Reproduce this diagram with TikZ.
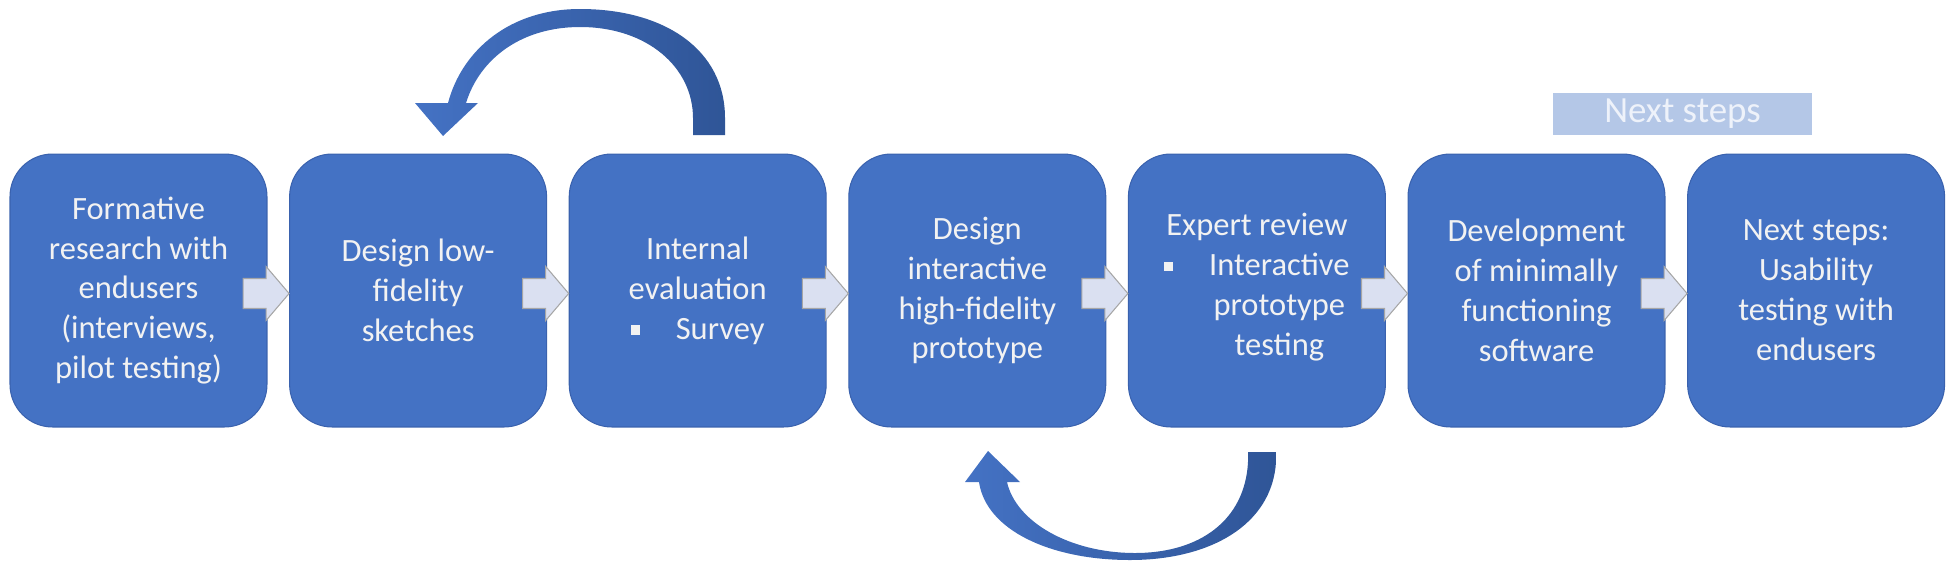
\documentclass[tikz,border=0pt]{standalone}
\usepackage{fontspec}
\setmainfont{Carlito}
\usetikzlibrary{positioning}

\definecolor{boxblue}{HTML}{4472C4}
\definecolor{boxline}{HTML}{3A62AE}
\definecolor{chevfill}{HTML}{DAE0F1}
\definecolor{chevline}{HTML}{A6A6A6}
\definecolor{loopdark}{HTML}{2F5597}
\definecolor{bannerblue}{HTML}{B4C7E7}
\definecolor{textwhite}{HTML}{F2F2F2}
\definecolor{bannertext}{HTML}{EEF2FA}

\newcommand{\sqbullet}{\rule[0.14em]{0.28em}{0.28em}}

\begin{document}
\begin{tikzpicture}[x=0.02cm, y=-0.02cm,
    stepbox/.style={rectangle,rounded corners=0.85cm,draw=boxline,line width=0.6pt,fill=boxblue,
      minimum width=5.14cm,minimum height=5.46cm,inner sep=0pt,align=center,text=textwhite,
      font=\fontsize{18.5}{22.7}\selectfont},
    chevron/.style={fill=chevfill,draw=chevline,line width=0.6pt},
    feedback/.style={left color=boxblue,right color=loopdark},
    banner/.style={rectangle,fill=bannerblue,minimum width=5.18cm,minimum height=0.84cm,
      inner sep=0pt,text=bannertext,font=\fontsize{21}{25}\selectfont}
    ]

    \useasboundingbox (0,0) rectangle (1950,572);

    % process steps:
    \node (b1) at (138.5,290.5) [stepbox] {Formative\\research with\\endusers\\(interviews,\\pilot testing)};
    \node (b2) [stepbox,right=0.432cm of b1] {Design low-\\fidelity\\sketches};
    \node (b3) [stepbox,right=0.432cm of b2] {Internal\\evaluation\\\sqbullet\hspace{1.1em}Survey};
    \node (b4) [stepbox,right=0.432cm of b3] {Design\\interactive\\high-fidelity\\prototype};
    \node (b5) [stepbox,right=0.432cm of b4] {Expert review\\\sqbullet\hspace{1.1em}\begin{tabular}[t]{@{}c@{}}Interactive\\prototype\\testing\end{tabular}};
    \node (b6) [stepbox,right=0.432cm of b5] {Development\\of minimally\\functioning\\software};
    \node (b7) [stepbox,right=0.432cm of b6] {Next steps:\\Usability\\testing with\\endusers};

    % label over the last steps:
    \node (next) at (1682.5,114) [banner] {Next steps};

    % block arrows between steps:
    \foreach \b in {2,...,7}
    \draw [chevron] ([yshift=-0.06cm]b\b.west) -- ++(-23,-27) -- ++(0,12) -- ++(-23,0)
      -- ++(0,30) -- ++(23,0) -- ++(0,12) -- cycle;

    % feedback loops:
    \shade [feedback] (725,135) -- (725,118) .. controls (725,50) and (665,9) .. (580,9)
      .. controls (510,9) and (462,50) .. (448,103) -- (415,103) -- (443,136) -- (478,103)
      -- (466,103) .. controls (480,58) and (522,27) .. (580,27)
      .. controls (648,27) and (693,68) .. (693,118) -- (693,135) -- cycle;

    \shade [feedback] (1276,452) -- (1276,462) .. controls (1272,525) and (1210,560) .. (1130,560)
      .. controls (1050,560) and (986,530) .. (979,482) -- (965,482) -- (988,451) -- (1020,482)
      -- (1007,482) .. controls (1016,522) and (1070,553) .. (1135,553)
      .. controls (1200,553) and (1245,520) .. (1248,462) -- (1248,452) -- cycle;

\end{tikzpicture}
\end{document}
